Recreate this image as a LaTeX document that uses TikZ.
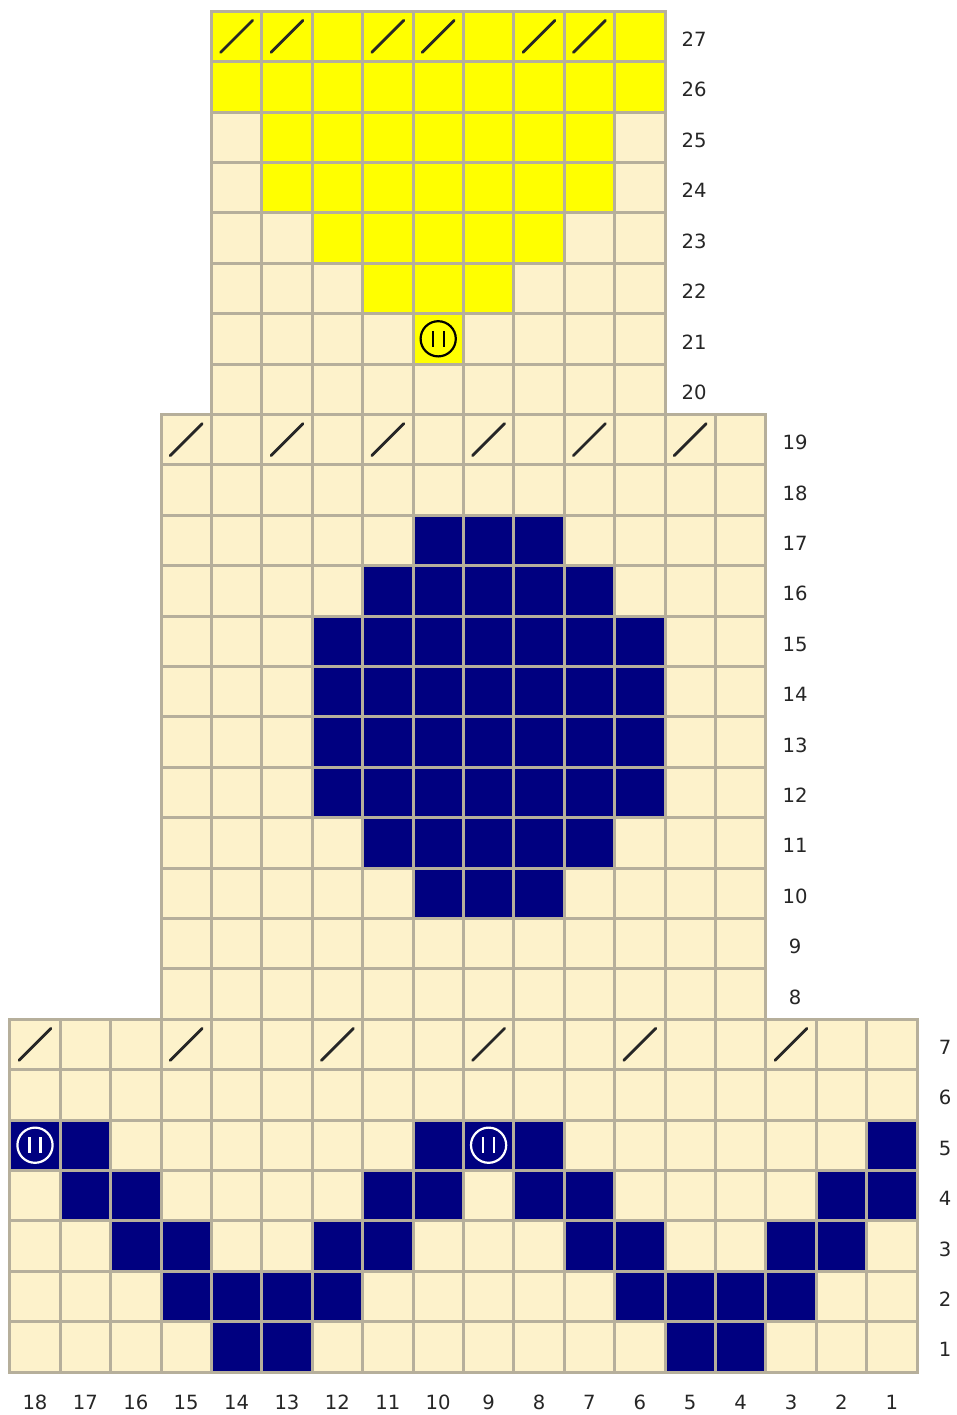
\documentclass[tikz,border=0pt]{standalone}
\usepackage{fontspec}
\setmainfont{DejaVu Sans}
\definecolor{cream}{HTML}{FDF2CB}
\definecolor{gridc}{HTML}{B6AF9B}
\definecolor{navyc}{HTML}{000080}
\definecolor{yel}{HTML}{FFFF00}
\newcommand\cellfill[3]{\fill[#3] ({917-50.4*#1},{1372-50.4*#2}) rectangle ({917-50.4*(#1-1)},{1372-50.4*(#2-1)});}
\newcommand\slashmark[2]{\draw[slashline] ({917-50.4*(#1-0.5)-16},{1372-50.4*(#2-0.5)+16}) -- ({917-50.4*(#1-0.5)+16},{1372-50.4*(#2-0.5)-16});}
\newcommand\circmark[3]{%
  \draw[#3,line width=1.1pt] ({917-50.4*(#1-0.5)},{1372-50.4*(#2-0.5)}) circle[radius=8.8pt];
  \draw[#3,line width=1.1pt] ({917-50.4*(#1-0.5)-5.5},{1372-50.4*(#2-0.5)-8}) -- ({917-50.4*(#1-0.5)-5.5},{1372-50.4*(#2-0.5)+8});
  \draw[#3,line width=1.1pt] ({917-50.4*(#1-0.5)+5.5},{1372-50.4*(#2-0.5)-8}) -- ({917-50.4*(#1-0.5)+5.5},{1372-50.4*(#2-0.5)+8});}
\newcommand\gridsec[4]{% cols #1..#2, rows #3..#4
  \foreach \k in {#1,...,#2}{\draw[gridline] ({917-50.4*(\k-1)},{1372-50.4*#4}) -- ({917-50.4*(\k-1)},{1372-50.4*(#3-1)});}
  \draw[gridline] ({917-50.4*#2},{1372-50.4*#4}) -- ({917-50.4*#2},{1372-50.4*(#3-1)});
  \foreach \r in {#3,...,#4}{\draw[gridline] ({917-50.4*#2},{1372-50.4*(\r-1)}) -- ({917-50.4*(#1-1)},{1372-50.4*(\r-1)});}
  \draw[gridline] ({917-50.4*#2},{1372-50.4*#4}) -- ({917-50.4*(#1-1)},{1372-50.4*#4});}
\begin{document}
\begin{tikzpicture}[x=0.5pt,y=-0.5pt,
  gridline/.style={draw=gridc,line width=1.5pt,line cap=rect},
  slashline/.style={draw=black!85,line width=1.4pt,line cap=round},
  lbl/.style={font=\fontsize{9.8pt}{11pt}\selectfont,text=black!85,inner sep=0pt}]
\useasboundingbox[fill=white] (0,0) rectangle (957,1415);
% backgrounds
\foreach \c in {1,...,18}{\foreach \r in {1,...,7}{\cellfill{\c}{\r}{cream}}}
\foreach \c in {4,...,15}{\foreach \r in {8,...,19}{\cellfill{\c}{\r}{cream}}}
\foreach \c in {6,...,14}{\foreach \r in {20,...,27}{\cellfill{\c}{\r}{cream}}}
% navy cells
\foreach \c in {14,13,5,4}{\cellfill{\c}{1}{navyc}}
\foreach \c in {15,14,13,12,6,5,4,3}{\cellfill{\c}{2}{navyc}}
\foreach \c in {16,15,12,11,7,6,3,2}{\cellfill{\c}{3}{navyc}}
\foreach \c in {17,16,11,10,8,7,2,1}{\cellfill{\c}{4}{navyc}}
\foreach \c in {18,17,10,9,8,1}{\cellfill{\c}{5}{navyc}}
\foreach \c in {8,9,10}{\cellfill{\c}{10}{navyc}\cellfill{\c}{17}{navyc}}
\foreach \c in {7,...,11}{\cellfill{\c}{11}{navyc}\cellfill{\c}{16}{navyc}}
\foreach \c in {6,...,12}{\foreach \r in {12,...,15}{\cellfill{\c}{\r}{navyc}}}
% yellow cells
\cellfill{10}{21}{yel}
\foreach \c in {9,10,11}{\cellfill{\c}{22}{yel}}
\foreach \c in {8,...,12}{\cellfill{\c}{23}{yel}}
\foreach \c in {7,...,13}{\cellfill{\c}{24}{yel}\cellfill{\c}{25}{yel}}
\foreach \c in {6,...,14}{\cellfill{\c}{26}{yel}\cellfill{\c}{27}{yel}}
% grids
\gridsec{6}{14}{20}{27}
\gridsec{4}{15}{8}{19}
\gridsec{1}{18}{1}{7}
% slashes
\foreach \c in {18,15,12,9,6,3}{\slashmark{\c}{7}}
\foreach \c in {15,13,11,9,7,5}{\slashmark{\c}{19}}
\foreach \c in {14,13,11,10,8,7}{\slashmark{\c}{27}}
% circles
\circmark{18}{5}{white}
\circmark{9}{5}{white}
\circmark{10}{21}{black}
% row labels
\foreach \r in {1,...,7}{\node[lbl] (row\r) at (945,{1375-50.4*(\r-0.5)}) {\r};}
\foreach \r in {8,...,19}{\node[lbl] (row\r) at (795,{1375-50.4*(\r-0.5)}) {\r};}
\foreach \r in {20,...,27}{\node[lbl] (row\r) at (694,{1375-50.4*(\r-0.5)}) {\r};}
% column labels
\foreach \c in {1,...,18}{\node[lbl] (col\c) at ({917-50.4*(\c-0.5)},1402) {\c};}
\end{tikzpicture}
\end{document}
